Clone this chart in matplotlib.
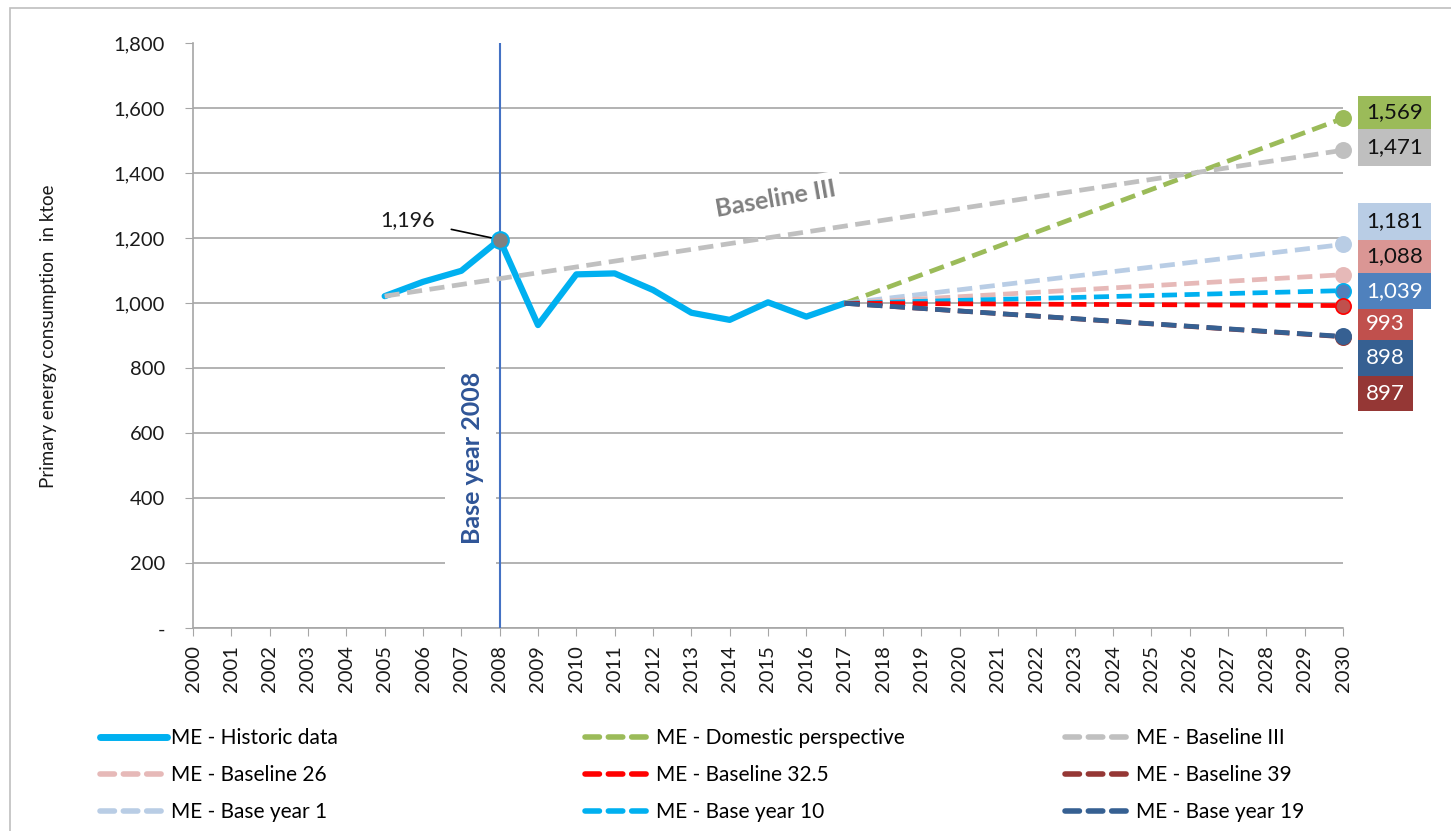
import matplotlib
matplotlib.use('Agg')
import matplotlib.pyplot as plt
from matplotlib.lines import Line2D
from matplotlib.patches import Rectangle
from matplotlib.ticker import FuncFormatter

plt.rcParams['font.family'] = ['Lato', 'DejaVu Sans']

# === Data ===
years = list(range(2000, 2031))
hist_years = list(range(2005, 2018))
hist_values = [1022, 1066, 1100, 1196, 933, 1089, 1092, 1041, 971, 949, 1003, 959, 1000]

# projections: (name, start year, start value, end value in 2030)
proj_names = ["ME - Domestic perspective", "ME - Baseline III", "ME - Base year 1",
              "ME - Baseline 26", "ME - Base year 10", "ME - Baseline 32.5",
              "ME - Baseline 39", "ME - Base year 19"]
proj_start_year = [2017, 2005, 2017, 2017, 2017, 2017, 2017, 2017]
proj_start_value = [1000, 1022, 1000, 1000, 1000, 1000, 1000, 1000]
proj_end_value = [1569, 1471, 1181, 1088, 1039, 993, 897, 898]

# end labels, top to bottom
end_labels = ["1,569", "1,471", "1,181", "1,088", "1,039", "993", "898", "897"]

# === Styles ===
line_colors = ["#9BBB59", "#C0C0C0", "#B9CDE5", "#E6B9B8", "#00B0F0", "#FF0000", "#953735", "#366092"]
marker_fill = ["#9BBB59", "#C0C0C0", "#B9CDE5", "#E6B9B8", "#4F81BD", "#C0504D", "#953735", "#366092"]
label_bg = ["#9BBB59", "#BFBFBF", "#B9CDE5", "#DA9694", "#4F81BD", "#C0504D", "#366092", "#953735"]
label_fg = ["#111111"] * 4 + ["white"] * 4
# label boxes in pixels: (left, top, right, bottom)
label_boxes = [(1358, 96, 1431, 129), (1358, 129, 1431, 166), (1358, 203, 1431, 240),
               (1358, 240, 1431, 273), (1358, 273, 1431, 309), (1358, 309, 1413, 340),
               (1358, 340, 1413, 376), (1358, 376, 1413, 411)]
hist_color = "#00B0F0"
grid_color = "#A6A6A6"

W, H = 1451, 831
fig = plt.figure(figsize=(W / 100, H / 100), dpi=100)
ax = fig.add_axes([193 / W, 1 - 628.3 / H, (1343 - 193) / W, (628.3 - 43.3) / H])

# figure border (left & top visible)
fig.patches.append(Rectangle((10 / W, -0.1), 1.2, 1 - 8 / H + 0.1, transform=fig.transFigure,
                             fill=False, edgecolor="#BFBFBF", lw=1.2))

ax.set_xlim(2000, 2030)
ax.set_ylim(0, 1800)
ax.set_xticks(years)
ax.set_xticklabels([str(y) for y in years], rotation=90)
ax.set_yticks(range(0, 1801, 200))
ax.yaxis.set_major_formatter(FuncFormatter(lambda v, p: "-" if v == 0 else f"{int(v):,}"))
ax.tick_params(axis="both", direction="out", length=6, color=grid_color, labelsize=14.5,
               labelcolor="#1a1a1a")
ax.tick_params(axis="y", pad=14)
ax.tick_params(axis="x", pad=6)
for s in ["top", "right"]:
    ax.spines[s].set_visible(False)
for s in ["left", "bottom"]:
    ax.spines[s].set_color(grid_color)
    ax.spines[s].set_linewidth(1.2)
ax.yaxis.grid(True, color=grid_color, lw=1.2)
ax.get_ygridlines()[-1].set_visible(False)
ax.set_axisbelow(True)
ax.set_ylabel("Primary energy consumption  in ktoe", fontsize=13.5, labelpad=41, color="#1a1a1a")

# base year line + label on a white patch
ax.add_patch(Rectangle((2006.57, 165), 1.33, 705, fc="white", ec="none", zorder=2))
ax.axvline(2008, color="#4472C4", lw=1.5, zorder=4)
ax.text(2007.3, 524, "Base year 2008", rotation=90, ha="center", va="center", fontsize=18,
        fontweight="bold", color="#2F5597", zorder=3)

# historic
ax.plot(hist_years, hist_values, color=hist_color, lw=4.5, solid_joinstyle="round",
        solid_capstyle="round", zorder=4)
ax.plot(2008, hist_values[hist_years.index(2008)], "o", ms=12, mfc="#808080", mec=hist_color,
        mew=1.5, zorder=6)
ax.annotate(f"{hist_values[hist_years.index(2008)]:,}", xy=(2008, 1196), xytext=(2005.6, 1256),
            ha="center", va="center", fontsize=15.5, color="#1a1a1a",
            arrowprops=dict(arrowstyle="-", color="black", lw=1.2, shrinkA=10, shrinkB=3))

# projections
for i, name in enumerate(proj_names):
    ax.plot([proj_start_year[i], 2030], [proj_start_value[i], proj_end_value[i]],
            color=line_colors[i], lw=3.4, dashes=(3.2, 1.6), dash_capstyle="butt", zorder=5)
    ax.plot(2030, proj_end_value[i], "o", ms=11, mfc=marker_fill[i], mec=line_colors[i],
            mew=1.2, zorder=6, clip_on=False)

ax.text(2015.2, 1320, "Baseline III", rotation=10, ha="center", va="center", fontsize=18,
        fontweight="bold", color="#808080", zorder=3,
        bbox=dict(boxstyle="square,pad=0.25", fc="white", ec="none"))

# end labels
for (l, t, r, b), txt, bg, fg in zip(label_boxes, end_labels, label_bg, label_fg):
    fig.patches.append(Rectangle((l / W, 1 - b / H), (r - l) / W, (b - t) / H,
                                 transform=fig.transFigure, fc=bg, ec="none"))
    fig.text((l + r) / 2 / W, 1 - (t + b) / 2 / H, txt, ha="center", va="center",
             fontsize=16, color=fg)

# legend (three columns)
def handle(i):
    return Line2D([], [], color=line_colors[i], lw=4, dashes=(2.6, 1.6), dash_capstyle="round")

hist_handle = Line2D([], [], color=hist_color, lw=5, solid_capstyle="round")
columns = [
    ([hist_handle, handle(3), handle(2)], ["ME - Historic data", proj_names[3], proj_names[2]], 100),
    ([handle(0), handle(5), handle(4)], [proj_names[0], proj_names[5], proj_names[4]], 585),
    ([handle(1), handle(6), handle(7)], [proj_names[1], proj_names[6], proj_names[7]], 1065),
]
for hs, ls, xpx in columns:
    fig.legend(hs, ls, loc="upper left", bbox_to_anchor=(xpx / W, 1 - 728 / H), frameon=False,
               fontsize=15, handlelength=3.2, handletextpad=0.2, labelspacing=0.82,
               borderpad=0, borderaxespad=0)

fig.savefig("out.png", dpi=100)
